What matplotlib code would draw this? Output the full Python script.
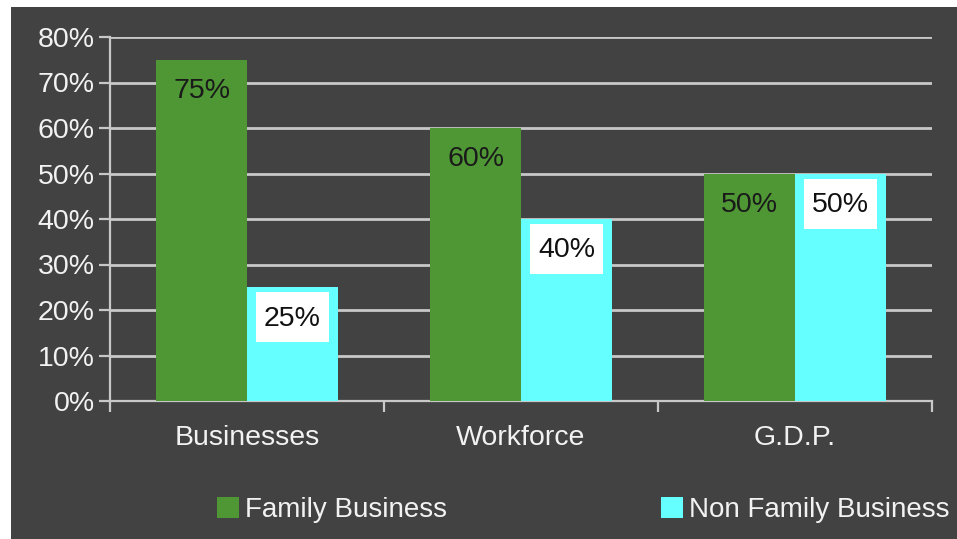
import matplotlib
matplotlib.use("Agg")
import matplotlib.pyplot as plt
import numpy as np
from matplotlib.patches import Rectangle

categories = ["Businesses", "Workforce", "G.D.P."]
family = [75, 60, 50]
non_family = [25, 40, 50]
series_names = ["Family Business", "Non Family Business"]
y_ticks = [0, 10, 20, 30, 40, 50, 60, 70, 80]

BG = "#424242"
GREEN = "#4f9735"
CYAN = "#66ffff"
GRID = "#c8c8c8"
TEXT = "#f2f2f2"
FS = 20.5

plt.rcParams["font.family"] = ["Liberation Sans", "DejaVu Sans"]

W, H = 957, 539
DPI = 100
fig = plt.figure(figsize=(W / DPI, H / DPI), dpi=DPI, facecolor=BG)
# thin white margin along the top and left edges
fig.patches.append(Rectangle((0, 0), 11 / W, 1, transform=fig.transFigure,
                             facecolor="white", edgecolor="none", zorder=-5))
fig.patches.append(Rectangle((0, 1 - 7 / H), 1, 7 / H, transform=fig.transFigure,
                             facecolor="white", edgecolor="none", zorder=-5))

ax = fig.add_axes([110 / W, 1 - 401 / H, (932 - 110) / W, (401 - 37) / H])
ax.set_facecolor(BG)

x = np.arange(len(categories)) + 0.5
bw = 0.332
bars_f = ax.bar(x - bw / 2, family, bw, color=GREEN, zorder=3, label=series_names[0])
bars_n = ax.bar(x + bw / 2, non_family, bw, color=CYAN, zorder=3, label=series_names[1])

ax.set_xlim(0, len(categories))
ax.set_ylim(0, 80)
ax.set_yticks(y_ticks)
ax.set_yticklabels([f"{v}%" for v in y_ticks])
ax.set_xticks(np.arange(len(categories) + 1))
ax.set_xticklabels([])
ax.set_xticks(x, minor=True)
ax.set_xticklabels(categories, minor=True)
ax.tick_params(axis="x", which="minor", length=0, pad=17, labelsize=FS, labelcolor=TEXT)
ax.tick_params(axis="x", which="major", length=8, width=1.6, color=GRID, direction="out")
ax.tick_params(axis="y", length=8, width=1.6, color=GRID, labelsize=FS, labelcolor=TEXT, pad=3)

ax.yaxis.grid(True, color=GRID, linewidth=2, zorder=1)
ax.set_axisbelow(True)
for s in ["top", "right"]:
    ax.spines[s].set_visible(False)
for s in ["left", "bottom"]:
    ax.spines[s].set_color(GRID)
    ax.spines[s].set_linewidth(1.6)

LABEL_DROP = -22.5  # points below the bar top

for b, v in zip(bars_f, family):
    ax.annotate(f"{v}%", (b.get_x() + b.get_width() / 2, v), xytext=(0, LABEL_DROP),
                textcoords="offset points", ha="center", va="center",
                fontsize=FS, color="#1a1a1a", zorder=5)

# white label boxes on the non-family bars (sized in pixels, anchored to the bar top)
box_w, box_h, box_gap = 73, 50, 5
for b, v in zip(bars_n, non_family):
    cx = b.get_x() + b.get_width() / 2
    px, py = ax.transData.transform((cx, v))
    ax.add_patch(Rectangle(((px - box_w / 2) / DPI, (py - box_gap - box_h) / DPI),
                           box_w / DPI, box_h / DPI, transform=fig.dpi_scale_trans,
                           facecolor="white", edgecolor="none", zorder=4, clip_on=False))
    ax.annotate(f"{v}%", (cx, v), xytext=(0, LABEL_DROP),
                textcoords="offset points", ha="center", va="center",
                fontsize=FS, color="#111111", zorder=5)

fs_leg = 20
leg1 = fig.legend(handles=[bars_f], labels=[series_names[0]], loc="center left",
                  bbox_to_anchor=(217 / W, 1 - 510 / H), frameon=False, fontsize=fs_leg,
                  labelcolor=TEXT, handlelength=0.8, handleheight=0.8, handletextpad=0.2,
                  borderpad=0, borderaxespad=0)
leg2 = fig.legend(handles=[bars_n], labels=[series_names[1]], loc="center left",
                  bbox_to_anchor=(661 / W, 1 - 510 / H), frameon=False, fontsize=fs_leg,
                  labelcolor=TEXT, handlelength=0.8, handleheight=0.8, handletextpad=0.2,
                  borderpad=0, borderaxespad=0)

fig.savefig("out.png", dpi=DPI, facecolor=BG)
